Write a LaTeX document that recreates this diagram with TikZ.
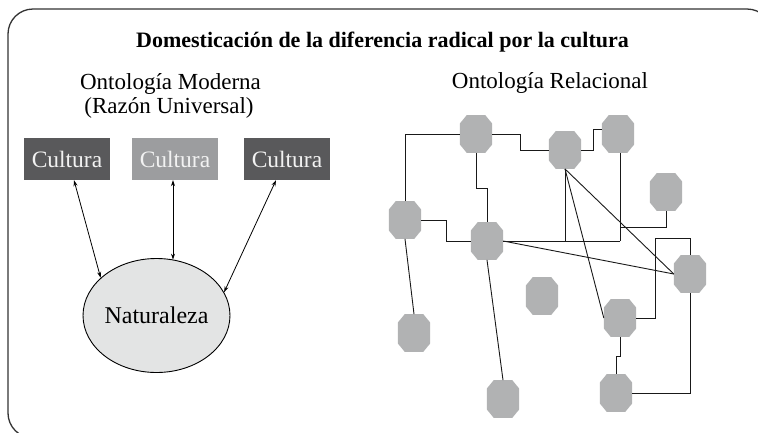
\documentclass[tikz,border=0pt]{standalone}
\usepackage{fontspec}
\setmainfont{Liberation Serif}
\usetikzlibrary{calc,shapes.geometric,arrows.meta}
\definecolor{boxdark}{HTML}{59595B}
\definecolor{boxlight}{HTML}{9C9D9F}
\definecolor{octgray}{HTML}{B1B2B3}
\definecolor{natfill}{HTML}{E3E4E4}
\definecolor{boxtext}{HTML}{F2F2F2}
\definecolor{framecol}{HTML}{333333}
\tikzset{
  framestyle/.style={draw=framecol, line width=1.3pt, rounded corners=25pt},
  titlestyle/.style={font=\bfseries\fontsize{22}{26}\selectfont, anchor=base, inner sep=0pt},
  headstyle/.style={font=\fontsize{23}{27}\selectfont, anchor=base, inner sep=0pt},
  culturebox/.style={minimum width=86pt, minimum height=42pt, inner sep=0pt, text=boxtext, font=\fontsize{23.5}{27}\selectfont},
  natstyle/.style={ellipse, draw=black, line width=0.9pt, fill=natfill, minimum width=139pt, minimum height=114pt, inner sep=0pt, font=\fontsize{24}{28}\selectfont},
  biarrow/.style={line width=0.8pt, {Stealth[length=6pt,width=4pt]}-{Stealth[length=6pt,width=4pt]}},
  octnode/.style={minimum width=32pt, minimum height=37.5pt, inner sep=0pt},
  netline/.style={line width=0.9pt, draw=black!90}
}
\begin{document}
\begin{tikzpicture}[x=1pt,y=-1pt]
\useasboundingbox (0,0) rectangle (758,432);
\begin{scope}
  \clip (0,0) rectangle (758,432);
  \draw[framestyle] (8,9) rectangle (772,438);
\end{scope}

\node[titlestyle] (title) at (382.5,47) {Domesticación de la diferencia radical por la cultura};
\node[headstyle] (mod1) at (170.5,89) {Ontología Moderna};
\node[headstyle] (mod2) at (169,113) {(Razón Universal)};
\node[headstyle] (rel) at (550,88) {Ontología Relacional};

\node[culturebox, fill=boxdark] (c1) at (67,159) {Cultura};
\node[culturebox, fill=boxlight] (c2) at (175,159) {Cultura};
\node[culturebox, fill=boxdark] (c3) at (287,159) {Cultura};
\node[natstyle] (nat) at (156.5,315.5) {Naturaleza};

\draw[biarrow] ($(c1.south)+(7,0)$) -- (nat.146);
\draw[biarrow] ($(c2.south)+(-2,0)$) coordinate (a2) -- (a2 |- nat.73);
\draw[biarrow] ($(c3.south)+(-11,0)$) -- (nat.19);

% network nodes
\node[octnode] (o1) at (476,134) {};
\node[octnode] (o2) at (565,150) {};
\node[octnode] (o3) at (618,134) {};
\node[octnode] (o4) at (666,192) {};
\node[octnode] (o5) at (405,220) {};
\node[octnode] (o6) at (487,241) {};
\node[octnode] (o7) at (690,274) {};
\node[octnode] (o8) at (542,296) {};
\node[octnode] (o9) at (620,318) {};
\node[octnode] (o10) at (414,333) {};
\node[octnode] (o11) at (503,399) {};
\node[octnode] (o12) at (616,393) {};
\foreach \n in {o1,o2,o3,o4,o5,o6,o7,o8,o9,o10,o11,o12}{
  \fill[octgray] ([xshift=7pt]\n.north west) -- ([xshift=-7pt]\n.north east)
    -- ([yshift=-8.5pt]\n.north east) -- ([yshift=8.5pt]\n.south east)
    -- ([xshift=-7pt]\n.south east) -- ([xshift=7pt]\n.south west)
    -- ([yshift=8.5pt]\n.south west) -- ([yshift=-8.5pt]\n.north west) -- cycle;
}

\coordinate (k1) at (520,134);
\coordinate (k2) at (593,129);
\coordinate (k3) at (476,188);
\coordinate (k4) at (446,220);
\coordinate (j3) at (620,241);
\coordinate (j4) at (620,227);
\coordinate (k5) at (655,238);
\coordinate (k6) at (620,356);

\draw[netline] (o5.north) |- (o1.west);
\draw[netline] (o1.east) -| (k1 |- o2.west) -- (o2.west);
\draw[netline] (o2.east) -| (k2) -- (k2 -| o3.west);
\draw[netline] (o1.south) |- (o6.north |- k3) -- (o6.north);
\draw[netline] (o5.east) -| (k4 |- o6.west) -- (o6.west);
\draw[netline] (o6.east) -- (j3);
\draw[netline] (o2.south) -- (o2.south |- j3);
\draw[netline] (o3.south -| j3) -- (j3);
\draw[netline] (j4) -| (o4.south);
\draw[netline] (o2.south) -- (o9.west);
\draw[netline] (o2.south) -- (o7.west);
\draw[netline] (o6.east) -- (o7.west);
\draw[netline] (o5.south) -- (o10.north);
\draw[netline] (o6.south) -- (o11.north);
\draw[netline] (o9.east) -| (k5) -| (o7.north);
\draw[netline] (o9.south) |- (o12.north |- k6) -- (o12.north);
\draw[netline] (o7.south) |- (o12.east);
\end{tikzpicture}
\end{document}
